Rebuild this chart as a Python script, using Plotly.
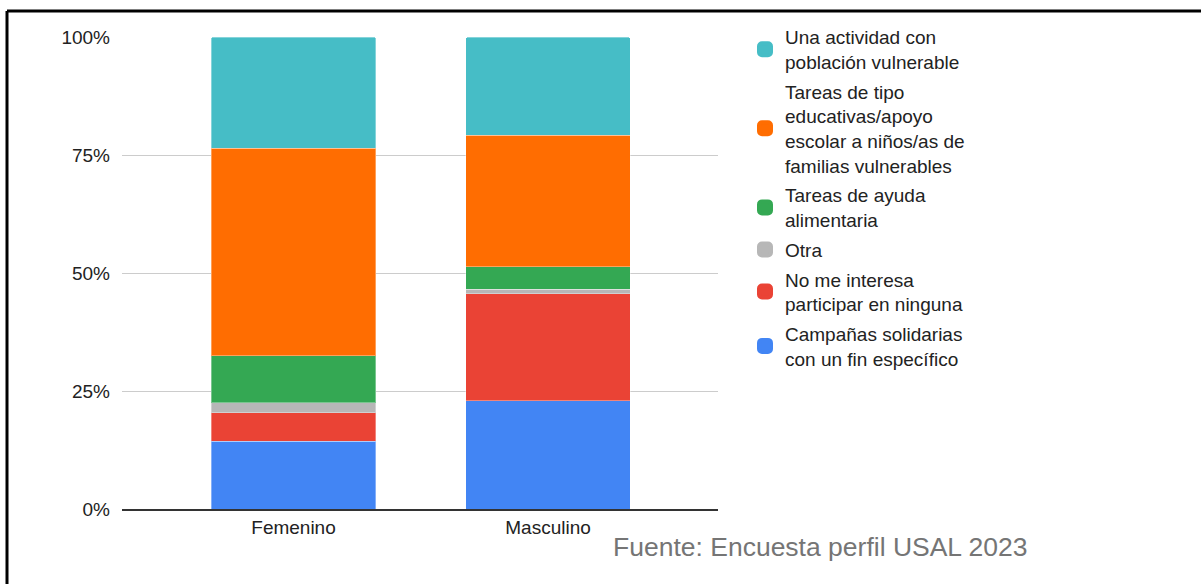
import plotly.graph_objects as go

categories = ["Femenino", "Masculino"]

# series listed from bottom of the stack to the top
series_names = [
    "Campañas solidarias<br>con un fin específico",
    "No me interesa<br>participar en ninguna",
    "Otra",
    "Tareas de ayuda<br>alimentaria",
    "Tareas de tipo<br>educativas/apoyo<br>escolar a niños/as de<br>familias vulnerables",
    "Una actividad con<br>población vulnerable",
]
campanas = [14.4, 22.9]
no_interesa = [6.0, 22.7]
otra = [2.1, 1.0]
ayuda_alimentaria = [10.0, 4.7]
educativas = [43.9, 27.9]
poblacion_vulnerable = [23.6, 20.8]
series_values = [campanas, no_interesa, otra, ayuda_alimentaria, educativas, poblacion_vulnerable]
colors = ["#4285F4", "#EA4335", "#B7B7B7", "#34A853", "#FF6D01", "#46BDC6"]
y_ticks = [0, 0.25, 0.5, 0.75, 1.0]
y_tick_labels = ["0%", "25%", "50%", "75%", "100%"]
source_note = "Fuente: Encuesta perfil USAL 2023"

FONT = "Liberation Sans, Arial, sans-serif"

fig = go.Figure()
n = len(series_names)
for i, (name, vals, col) in enumerate(zip(series_names, series_values, colors)):
    fig.add_trace(go.Bar(
        x=categories, y=vals, name=name, showlegend=False,
        marker=dict(color=col, line=dict(color="rgba(255,255,255,0.35)", width=1)),
        width=0.648, legendgroup=f"g{i}",
    ))
# legend entries (larger swatches)
for i, (name, col) in enumerate(zip(series_names, colors)):
    fig.add_trace(go.Bar(
        x=[None], y=[None], name=name, showlegend=True,
        marker=dict(color=col, line=dict(color=col, width=4)),
        legendgroup=f"g{i}", legendrank=n - i,
    ))

W, H = 1201, 584
L, R, T, B = 122, 718, 37, 509

def px_x(p):
    return (p - L) / (R - L)

def px_y(p):
    return (B - p) / (B - T)

fig.update_layout(
    width=W, height=H,
    margin=dict(l=L, r=W - R, t=T, b=H - B),
    barmode="stack", barnorm="fraction", barcornerradius=3,
    paper_bgcolor="white", plot_bgcolor="white",
    font=dict(family=FONT, size=19, color="#222222"),
    xaxis=dict(
        range=[-0.674, 1.668], showgrid=False, showline=True,
        linecolor="#333333", linewidth=1.5, ticks="",
        tickfont=dict(size=19, color="#222222"),
    ),
    yaxis=dict(
        range=[0, 1], tickvals=y_ticks, ticktext=y_tick_labels,
        showgrid=True, gridcolor="#CCCCCC", gridwidth=1, zeroline=False,
        ticks="", ticklabelstandoff=11, tickfont=dict(size=19, color="#222222"),
    ),
    legend=dict(
        x=px_x(745), y=px_y(18), xanchor="left", yanchor="top",
        font=dict(size=19, color="#222222"), tracegroupgap=2,
        traceorder="grouped", bgcolor="rgba(0,0,0,0)", maxheight=560,
    ),
    annotations=[dict(
        text=source_note, xref="paper", yref="paper",
        x=px_x(611), y=px_y(547), xanchor="left", yanchor="middle",
        showarrow=False, font=dict(size=26.5, color="#757575", family=FONT),
    )],
    shapes=[
        dict(type="line", xref="paper", yref="paper",
             x0=px_x(7), x1=px_x(1215), y0=px_y(11), y1=px_y(11),
             line=dict(color="black", width=3)),
        dict(type="line", xref="paper", yref="paper",
             x0=px_x(7), x1=px_x(7), y0=px_y(11), y1=px_y(600),
             line=dict(color="black", width=3)),
    ],
    showlegend=True,
)

fig.write_html("out.html", config={"displayModeBar": False},
               post_script="document.body.style.margin='0px';")
